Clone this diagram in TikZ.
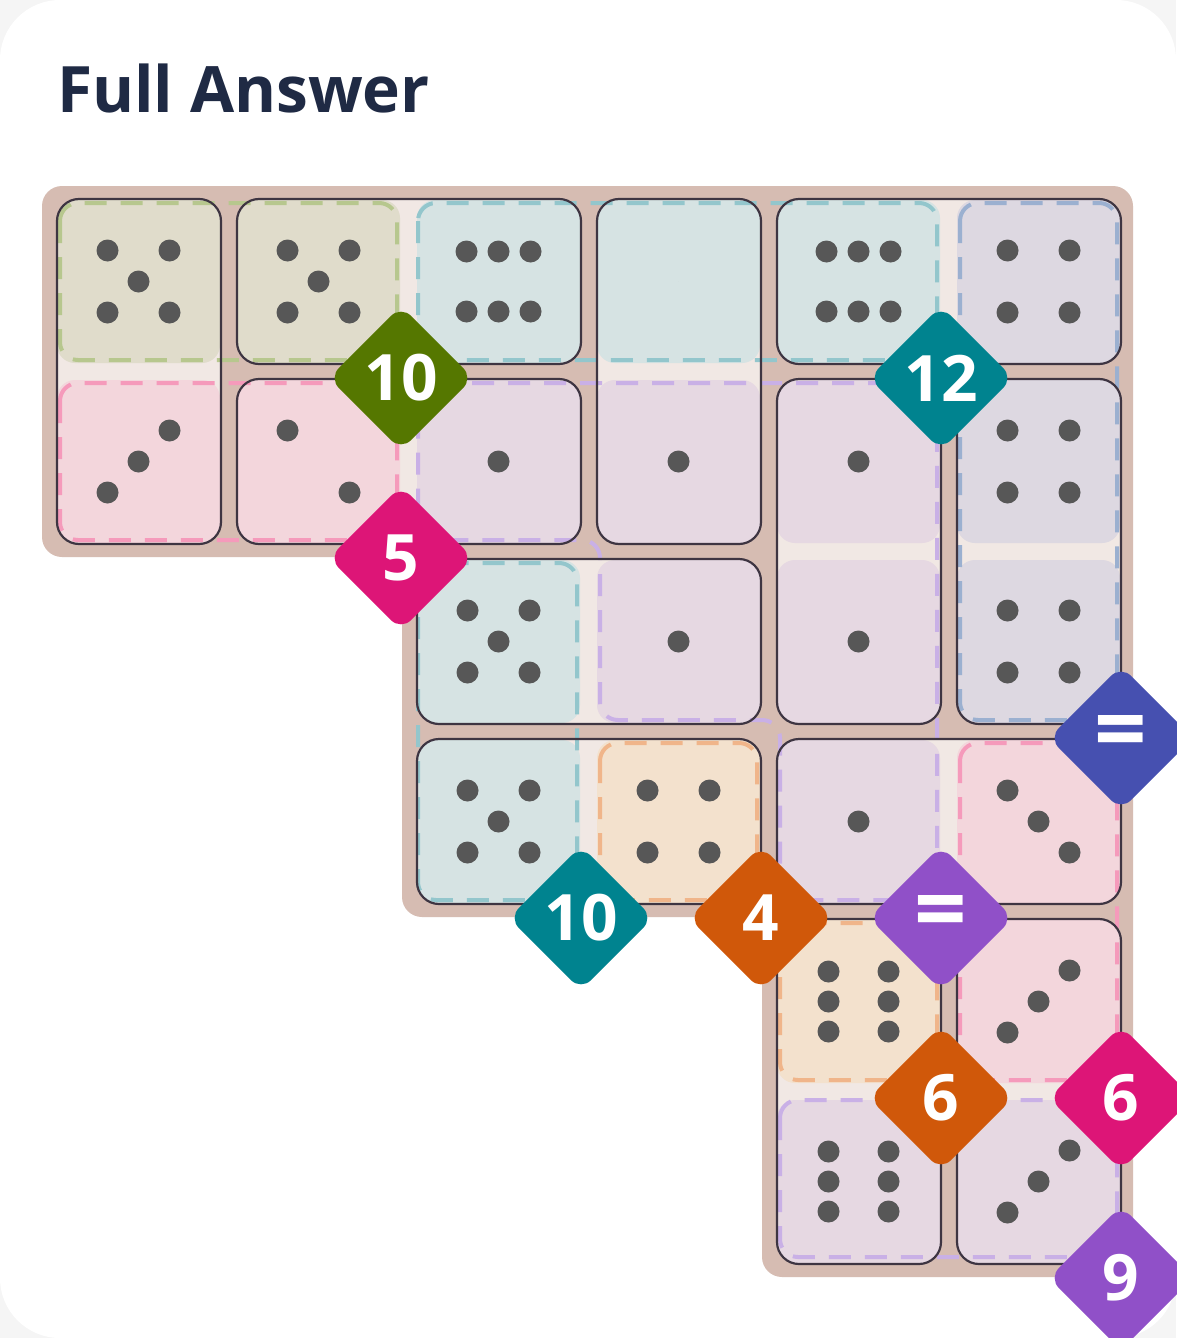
\documentclass[tikz,border=0pt]{standalone}
\usepackage{fontspec}
\setmainfont{Open Sans}
\definecolor{olv}{HTML}{E0DCCB}
\definecolor{pnk}{HTML}{F3D6DC}
\definecolor{tea}{HTML}{D6E3E3}
\definecolor{pur}{HTML}{E6D8E2}
\definecolor{blu}{HTML}{DDD8E1}
\definecolor{org}{HTML}{F3E1CD}
\definecolor{tan}{HTML}{D6BCB2}
\definecolor{navy}{HTML}{1F2A44}
\definecolor{bOlv}{HTML}{557700}
\definecolor{bTea}{HTML}{00838F}
\definecolor{bPnk}{HTML}{DD1577}
\definecolor{bBlu}{HTML}{4650B0}
\definecolor{bOrg}{HTML}{D0580A}
\definecolor{bPur}{HTML}{9050C8}
\definecolor{dOlv}{HTML}{B7C78E}
\definecolor{dPnk}{HTML}{F59ABB}
\definecolor{dTea}{HTML}{93C6CC}
\definecolor{dPur}{HTML}{C9B0E6}
\definecolor{dBlu}{HTML}{9BB0D0}
\definecolor{dOrg}{HTML}{F0B58A}
\definecolor{dline}{HTML}{3E3542}
\def\pipsfive{-31/-31,31/-31,0/0,-31/31,31/31}
\def\pipssixh{-32/-30,0/-30,32/-30,-32/30,0/30,32/30}
\def\pipssixv{-30/-30,30/-30,-30/0,30/0,-30/30,30/30}
\def\pipsfour{-31/-31,31/-31,-31/31,31/31}
\def\pipsthreeup{-31/31,0/0,31/-31}
\def\pipsthreedown{-31/-31,0/0,31/31}
\def\pipstwo{-31/-31,31/31}
\def\pipsone{0/0}
\def\pipsnone{0/0}
\newcommand\bigeq{\fontsize{92}{92}\selectfont=}
\tikzset{
  pip/.style={fill=black!66},
  region/.style={dashed, dash pattern=on 22pt off 14pt, line width=4pt, rounded corners=18pt},
  dominoline/.style={draw=dline, line width=2.2pt, rounded corners=22pt},
  badge/.style={rotate=45, minimum size=102pt, rounded corners=14pt, inner sep=0pt},
  badgetext/.style={text=white, font=\fontsize{64}{66}\selectfont\bfseries, inner sep=0pt},
}
\begin{document}
\begin{tikzpicture}[x=1pt,y=-1pt]
\useasboundingbox (0,0) rectangle (1176,1338);
\fill[black!4] (0,0) rectangle (1176,1338);
\fill[white, rounded corners=60pt] (0,0) rectangle (1176,1338);
\node[anchor=base west, text=navy, font=\fontsize{64}{66}\selectfont\bfseries, inner sep=0pt] (title) at (57,112) {Full Answer};
% board
\fill[tan, rounded corners=20pt] (42,186) -- (1133,186) -- (1133,1277) -- (762,1277) -- (762,917) -- (402,917) -- (402,557) -- (42,557) -- cycle;
% domino pale underlay
\foreach \ca/\ra/\cb/\rb in {0/0/0/1,1/0/2/0,1/1/2/1,3/0/3/1,4/0/5/0,4/1/4/2,5/1/5/2,2/2/3/2,2/3/3/3,4/3/5/3,4/4/4/5,5/4/5/5}{
  \fill[white!65!tan, rounded corners=20pt] ({57+180*\ca},{200+180*\ra}) rectangle ({220+180*\cb},{363+180*\rb});
}
% cells
\foreach \c/\r/\col/\p/\rad in {0/0/olv/five/11, 1/0/olv/five/11, 2/0/tea/sixh/11, 3/0/tea/none/0, 4/0/tea/sixh/11, 5/0/blu/four/11, 0/1/pnk/threeup/11, 1/1/pnk/two/11, 2/1/pur/one/11, 3/1/pur/one/11, 4/1/pur/one/11, 5/1/blu/four/11, 2/2/tea/five/11, 3/2/pur/one/11, 4/2/pur/one/11, 5/2/blu/four/11, 2/3/tea/five/11, 3/3/org/four/11, 4/3/pur/one/11, 5/3/pnk/threedown/11, 4/4/org/sixv/11, 5/4/pnk/threeup/11, 4/5/pur/sixv/11, 5/5/pur/threeup/11}{
  \fill[\col, rounded corners=18pt] ({57+180*\c},{200+180*\r}) rectangle ({220+180*\c},{363+180*\r});
  \edef\plist{\csname pips\p\endcsname}
  \foreach \dx/\dy in \plist {
    \fill[pip] ({138.5+180*\c+\dx},{281.5+180*\r+\dy}) circle (\rad pt);
  }
}
% regions
\draw[region, dOlv] (60,203) rectangle (397,360);
\draw[region, dPnk] (60,383) rectangle (397,540);
\draw[region, dTea] (418,203) rectangle (937,360);
\draw[region, dBlu] (960,203) rectangle (1117,720);
\draw[region, dPur] (418,383) -- (937,383) -- (937,900) -- (780,900) -- (780,720) -- (600,720) -- (600,540) -- (418,540) -- cycle;
\draw[region, dTea] (418,563) rectangle (577,900);
\draw[region, dOrg] (600,743) rectangle (757,900);
\draw[region, dPnk] (960,743) rectangle (1117,1080);
\draw[region, dOrg] (780,923) rectangle (937,1080);
\draw[region, dPur] (780,1100) rectangle (1117,1257);
% domino outlines
\foreach \ca/\ra/\cb/\rb in {0/0/0/1,1/0/2/0,1/1/2/1,3/0/3/1,4/0/5/0,4/1/4/2,5/1/5/2,2/2/3/2,2/3/3/3,4/3/5/3,4/4/4/5,5/4/5/5}{
  \draw[dominoline] ({57+180*\ca},{199+180*\ra}) rectangle ({221+180*\cb},{364+180*\rb});
}
% badges
\foreach \n/\x/\y/\col/\t in {a/401/378/bOlv/10, b/941/378/bTea/12, c/401/558/bPnk/5, d/1121/738/bBlu/\bigeq, e/581/918/bTea/10, f/761/918/bOrg/4, g/941/918/bPur/\bigeq, h/941/1098/bOrg/6, i/1121/1098/bPnk/6, j/1121/1278/bPur/9}{
  \node[badge, fill=\col] (badge\n) at (\x,\y) {};
  \node[badgetext] (label\n) at (badge\n.center) {\t};
}
\end{tikzpicture}
\end{document}
